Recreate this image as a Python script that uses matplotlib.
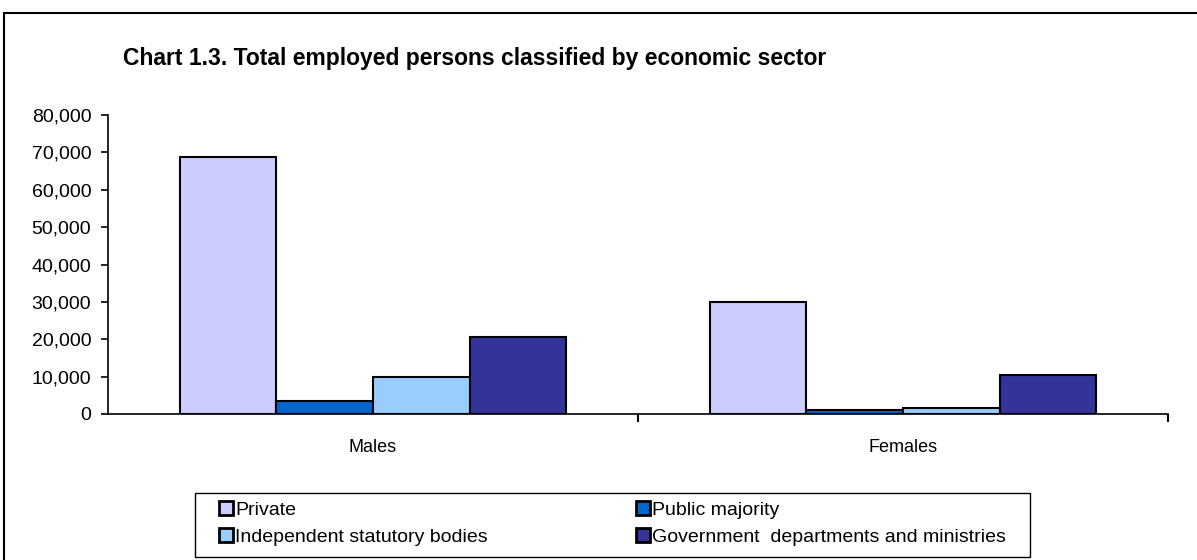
import matplotlib
matplotlib.use("Agg")
import matplotlib.pyplot as plt
from matplotlib.patches import Rectangle
from matplotlib.ticker import FuncFormatter, FixedLocator
import numpy as np

plt.rcParams['font.family'] = ['Liberation Sans', 'DejaVu Sans']

categories = ["Males", "Females"]
series_names = ["Private", "Public majority", "Independent statutory bodies",
                "Government  departments and ministries"]
private = [68700, 30050]
public_majority = [3560, 1070]
independent = [10000, 1600]
government = [20500, 10450]
colors = ["#CCCCFF", "#0066CC", "#99CCFF", "#333399"]
title = "Chart 1.3. Total employed persons classified by economic sector"

W, H = 1197, 560
fig = plt.figure(figsize=(W / 100, H / 100), dpi=100)
ax = fig.add_axes([108 / W, 1 - 414 / H, (1168 - 108) / W, (414 - 115) / H])

values = [private, public_majority, independent, government]
x = np.arange(len(categories))
bw = 0.73 / 4
bars = []
for i, (vals, name, c) in enumerate(zip(values, series_names, colors)):
    b = ax.bar(x - 0.365 + bw * (i + 0.5), vals, width=bw, color=c,
               edgecolor="black", linewidth=1.5, label=name, zorder=3)
    bars.append(b)

ax.set_xlim(-0.5, 1.5)
ax.set_ylim(0, 80000)
ax.set_yticks(np.arange(0, 80001, 10000))
ax.yaxis.set_major_formatter(FuncFormatter(lambda v, p: f"{int(v):,}"))
ax.set_xticks(x)
ax.set_xticklabels(categories)
ax.xaxis.set_minor_locator(FixedLocator([0.5, 1.5]))
ax.tick_params(axis="x", which="major", length=0, pad=18, labelsize=13)
ax.tick_params(axis="x", which="minor", length=6, width=1.5, direction="out")
ax.tick_params(axis="y", length=5, width=1.2, direction="out", labelsize=14, pad=7)
for s in ["top", "right"]:
    ax.spines[s].set_visible(False)
for s in ["left", "bottom"]:
    ax.spines[s].set_linewidth(1.2)
    ax.spines[s].set_zorder(4)

fig.text(475 / W, 1 - 58 / H, title, ha="center", va="center",
         fontsize=16.5, fontweight="bold")

# legend filled row-wise like the reference
order = [0, 2, 1, 3]
leg = fig.legend([bars[i] for i in order], [series_names[i] for i in order],
                 ncol=2, loc="upper left",
                 bbox_to_anchor=(219 / W, 1 - 501 / H),
                 frameon=False, fontsize=14,
                 handlelength=0.72, handleheight=0.72, handletextpad=0.12,
                 borderpad=0, labelspacing=0.5, borderaxespad=0,
                 columnspacing=7.6)
for h in leg.legend_handles:
    h.set_linewidth(2.0)

# legend box
fig.patches.append(Rectangle((195 / W, 1 - 557 / H), (1030 - 195) / W, (557 - 493) / H,
                             transform=fig.transFigure, fill=False,
                             edgecolor="black", linewidth=1.0))

fig.patches.append(Rectangle((4 / W, -0.1), 1.2, (1 - 13 / H) + 0.1,
                             transform=fig.transFigure, fill=False,
                             edgecolor="black", linewidth=1.5))

fig.savefig("out.png", dpi=100)
